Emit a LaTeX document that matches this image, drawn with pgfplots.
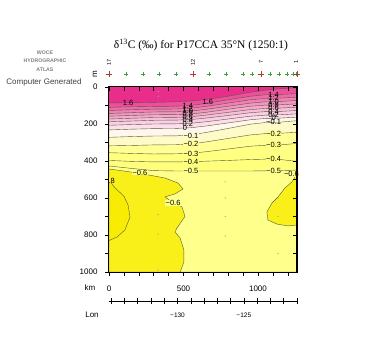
\documentclass[border=0pt]{standalone}
\usepackage{fontspec}
\setmainfont{Liberation Sans}
\newfontfamily\seriffont{Liberation Serif}
\usepackage{pgfplots}
\pgfplotsset{compat=1.18}
\definecolor{p16}{RGB}{232,45,138}
\definecolor{p14}{RGB}{237,78,157}
\definecolor{p12}{RGB}{240,104,170}
\definecolor{p10}{RGB}{242,128,183}
\definecolor{p08}{RGB}{244,150,196}
\definecolor{p06}{RGB}{246,170,208}
\definecolor{p04}{RGB}{248,189,219}
\definecolor{p02}{RGB}{250,206,228}
\definecolor{p00}{RGB}{252,222,236}
\definecolor{m01}{RGB}{255,246,236}
\definecolor{m02}{RGB}{255,251,200}
\definecolor{m03}{RGB}{255,255,150}
\definecolor{m04}{RGB}{255,255,130}
\definecolor{m05}{RGB}{255,255,125}
\definecolor{m06}{RGB}{255,255,140}
\definecolor{m07}{RGB}{250,240,25}
\definecolor{m09}{RGB}{248,236,5}
\definecolor{cl}{RGB}{90,90,60}
\definecolor{stg}{RGB}{60,160,60}
\definecolor{str}{RGB}{170,60,50}
\begin{document}
\begin{tikzpicture}[
  cline/.style={draw=cl, line width=0.4pt},
  clab/.style={font=\fontsize{7.5}{7.5}\selectfont, inner sep=0.3pt},
]
\begin{axis}[
  at={(0,0)}, anchor=south west,
  scale only axis, width=188pt, height=185pt,
  xmin=0, xmax=1262, ymin=0, ymax=1000, y dir=reverse,
  axis on top, clip=false,
  axis line style={line width=1pt},
  tick align=outside,
  xtick pos=left, ytick pos=left,
  xtick={0,500,1000}, minor xtick={100,200,300,400,600,700,800,900,1100,1200},
  ytick={0,200,400,600,800,1000}, minor ytick={100,300,500,700,900},
  major tick length=4pt, minor tick length=4pt,
  tick style={black, line width=0.5pt},
  ticklabel style={font=\fontsize{8}{8}\selectfont},
  xticklabel style={yshift=-6pt},
  yticklabel style={xshift=-4pt},
  /pgf/number format/assume math mode=true,
  /pgf/number format/1000 sep={},
]
% background band (>1.6)
\addplot[fill=p16, draw=none] coordinates {(0,0) (1262,0) (1262,1000) (0,1000)} -- cycle;
% bands below each contour
\addplot[fill=p14, cline] coordinates {(0,86) (150,85) (300,83) (450,80) (550,76) (650,68) (800,50) (950,28) (1050,17) (1150,9) (1262,4) (1262,1000) (0,1000)} -- cycle;
\addplot[fill=p12, cline] coordinates {(0,110) (150,107) (300,105) (450,104) (550,100) (650,89) (800,69) (950,50) (1050,42) (1150,40) (1262,36) (1262,1000) (0,1000)} -- cycle;
\addplot[fill=p10, cline] coordinates {(0,127) (150,123) (300,120) (450,119) (550,115) (650,105) (800,87) (950,69) (1050,62) (1150,60) (1262,55) (1262,1000) (0,1000)} -- cycle;
\addplot[fill=p08, cline] coordinates {(0,143) (150,139) (300,135) (450,134) (550,130) (650,121) (800,104) (950,87) (1050,80) (1150,78) (1262,73) (1262,1000) (0,1000)} -- cycle;
\addplot[fill=p06, cline] coordinates {(0,158) (150,154) (300,150) (450,149) (550,146) (650,137) (800,120) (950,104) (1050,98) (1150,96) (1262,91) (1262,1000) (0,1000)} -- cycle;
\addplot[fill=p04, cline] coordinates {(0,173) (150,169) (300,165) (450,164) (550,161) (650,152) (800,137) (950,122) (1050,116) (1150,114) (1262,109) (1262,1000) (0,1000)} -- cycle;
\addplot[fill=p02, cline] coordinates {(0,188) (150,184) (300,180) (450,179) (550,176) (650,168) (800,154) (950,139) (1050,133) (1150,132) (1262,127) (1262,1000) (0,1000)} -- cycle;
\addplot[fill=p00, cline] coordinates {(0,207) (150,203) (300,200) (450,199) (550,196) (650,188) (800,173) (950,158) (1050,152) (1150,150) (1262,145) (1262,1000) (0,1000)} -- cycle;
\addplot[fill=m01, cline] coordinates {(0,232) (150,228) (300,225) (450,224) (550,220) (650,211) (800,194) (950,177) (1050,170) (1150,168) (1262,163) (1262,1000) (0,1000)} -- cycle;
\addplot[fill=m02, cline] coordinates {(0,272) (150,268) (300,265) (450,264) (550,259) (650,246) (800,224) (950,201) (1050,192) (1150,190) (1262,182) (1262,1000) (0,1000)} -- cycle;
\addplot[fill=m03, cline] coordinates {(0,318) (150,316) (300,313) (450,312) (550,308) (650,297) (800,278) (950,259) (1050,252) (1150,250) (1262,245) (1262,1000) (0,1000)} -- cycle;
\addplot[fill=m04, cline] coordinates {(0,355) (150,359) (300,362) (450,361) (550,358) (650,350) (800,335) (950,320) (1050,315) (1150,313) (1262,305) (1262,1000) (0,1000)} -- cycle;
\addplot[fill=m05, cline] coordinates {(0,397) (150,402) (300,405) (450,405) (550,404) (650,401) (800,397) (950,392) (1050,390) (1150,392) (1262,402) (1262,1000) (0,1000)} -- cycle;
\addplot[fill=m06, cline] coordinates {(0,427) (150,440) (300,452) (450,454) (550,454) (650,454) (800,454) (950,454) (1050,453) (1150,452) (1262,449) (1262,1000) (0,1000)} -- cycle;
% -0.6 blobs
\addplot[fill=m07, cline] coordinates {(0,443) (195,465) (376,492) (463,519) (497,551) (443,578) (376,594) (420,620) (490,648) (510,700) (456,762) (443,784) (477,816) (503,881) (503,946) (483,989) (478,1000) (0,1000)} -- cycle;
\addplot[fill=m09, cline] coordinates {(0,505) (40,545) (100,590) (128,638) (141,703) (107,773) (54,811) (0,830)} -- cycle;
\addplot[fill=m07, cline] coordinates {(1262,470) (1228,513) (1181,546) (1134,595) (1094,627) (1060,676) (1067,719) (1127,741) (1201,751) (1262,746)} -- cycle;
% sample points
\addplot[only marks, mark=*, mark size=0.35pt, draw=gray!70, fill=gray!70] coordinates {(330,25) (330,50) (330,690) (330,795) (330,990) (780,513) (780,600) (780,700) (780,805) (1134,600) (1134,700) (1134,900) (560,115) (560,160)};
% stations
\addplot[only marks, mark=+, mark size=2pt, stg, line width=0.4pt] coordinates {(114,-70) (228,-70) (336,-70) (450,-70) (671,-70) (785,-70) (899,-70) (960,-70) (1081,-70) (1141,-70) (1195,-70) (1235,-70) (1255,-70)};
\addplot[only marks, mark=+, mark size=2.8pt, str, line width=0.5pt] coordinates {(0,-70) (564,-70) (1020,-70) (1262,-70)};
% contour labels
\node[clab] at (axis cs:128,88) {1.6};
\node[clab] at (axis cs:664,78) {1.6};
\node[clab] at (axis cs:530,100) {1.4};
\node[clab] at (axis cs:530,116) {1.2};
\node[clab] at (axis cs:530,131) {1.0};
\node[clab] at (axis cs:530,147) {0.8};
\node[clab] at (axis cs:530,162) {0.6};
\node[clab] at (axis cs:530,177) {0.4};
\node[clab] at (axis cs:530,197) {0.2};
\node[clab] at (axis cs:510,221) {0};
\node[clab, fill=m02] at (axis cs:550,262) {−0.1};
\node[clab, fill=m03] at (axis cs:550,310) {−0.2};
\node[clab, fill=m04] at (axis cs:550,360) {−0.3};
\node[clab, fill=m05] at (axis cs:550,404) {−0.4};
\node[clab, fill=m06] at (axis cs:550,454) {−0.5};
\node[clab] at (axis cs:1105,41) {1.4};
\node[clab] at (axis cs:1105,61) {1.2};
\node[clab] at (axis cs:1105,79) {1.0};
\node[clab] at (axis cs:1105,97) {0.8};
\node[clab] at (axis cs:1105,115) {0.6};
\node[clab] at (axis cs:1105,133) {0.4};
\node[clab] at (axis cs:1105,151) {0.2};
\node[clab] at (axis cs:1105,169) {0};
\node[clab] at (axis cs:1105,191) {−0.1};
\node[clab, fill=m03] at (axis cs:1105,251) {−0.2};
\node[clab, fill=m04] at (axis cs:1105,314) {−0.3};
\node[clab, fill=m05] at (axis cs:1105,391) {−0.4};
\node[clab, fill=m06] at (axis cs:1105,452) {−0.5};
\node[clab, fill=m06] at (axis cs:208,462) {−0.6};
\node[clab, fill=m06] at (axis cs:430,627) {−0.6};
\node[clab, fill=m06] at (axis cs:1225,470) {−0.6};
\node[clab, fill=m07] at (axis cs:18,505) {.8};
% station numbers
\node[rotate=90, font=\fontsize{5.5}{5.5}\selectfont] at (axis cs:0,-135) {17};
\node[rotate=90, font=\fontsize{5.5}{5.5}\selectfont] at (axis cs:564,-135) {12};
\node[rotate=90, font=\fontsize{5.5}{5.5}\selectfont] at (axis cs:1020,-135) {7};
\node[rotate=90, font=\fontsize{5.5}{5.5}\selectfont] at (axis cs:1255,-135) {1};
% texts
\node[font={\seriffont\fontsize{11.5}{12}\selectfont}] at (axis cs:617,-227) {δ\textsuperscript{13}C (‰) for P17CCA 35°N (1250:1)};
\node[font=\fontsize{5.2}{6}\bfseries\selectfont, text=gray] at (axis cs:-430,-184) {WOCE};
\node[font=\fontsize{5.2}{6}\bfseries\selectfont, text=gray] at (axis cs:-430,-141) {HYDROGRAPHIC};
\node[font=\fontsize{5.2}{6}\bfseries\selectfont, text=gray] at (axis cs:-430,-92) {ATLAS};
\node[font=\fontsize{8}{8}\selectfont, text=black!75] at (axis cs:-436,-27) {Computer Generated};
\node[rotate=90, font=\fontsize{8}{8}\selectfont] at (axis cs:-94,-70) {m};
\node[font=\fontsize{8}{8}\selectfont] at (axis cs:-128,1086) {km};
\node[font=\fontsize{8}{8}\selectfont] at (axis cs:-114,1230) {Lon};
% Lon axis
\draw[line width=0.5pt] (axis cs:0,1157) -- (axis cs:1262,1157);
\pgfplotsinvokeforeach{0,...,14}{\draw[line width=0.5pt] (axis cs:{15+89*#1},1143) -- (axis cs:{15+89*#1},1171);}
\node[font=\fontsize{6.5}{7}\selectfont] at (axis cs:460,1235) {−130};
\node[font=\fontsize{6.5}{7}\selectfont] at (axis cs:905,1235) {−125};
\coordinate (O) at (axis cs:0,1000);
\end{axis}
\begin{axis}[
  at={(0,0)}, anchor=south west,
  scale only axis, width=188pt, height=185pt,
  xmin=0, xmax=1262, ymin=0, ymax=1000, y dir=reverse,
  axis line style={draw=none},
  tick align=inside,
  xtick pos=right, ytick pos=right,
  xtick={0,500,1000}, minor xtick={100,200,300,400,600,700,800,900,1100,1200},
  ytick={0,200,400,600,800,1000}, minor ytick={100,300,500,700,900},
  xticklabels={}, yticklabels={},
  major tick length=4pt, minor tick length=4pt,
  tick style={black, line width=0.5pt},
]
\end{axis}
\pgfresetboundingbox
\path (O) ++(-109pt,-78pt) rectangle ++(375pt,350pt);
\end{tikzpicture}
\end{document}
